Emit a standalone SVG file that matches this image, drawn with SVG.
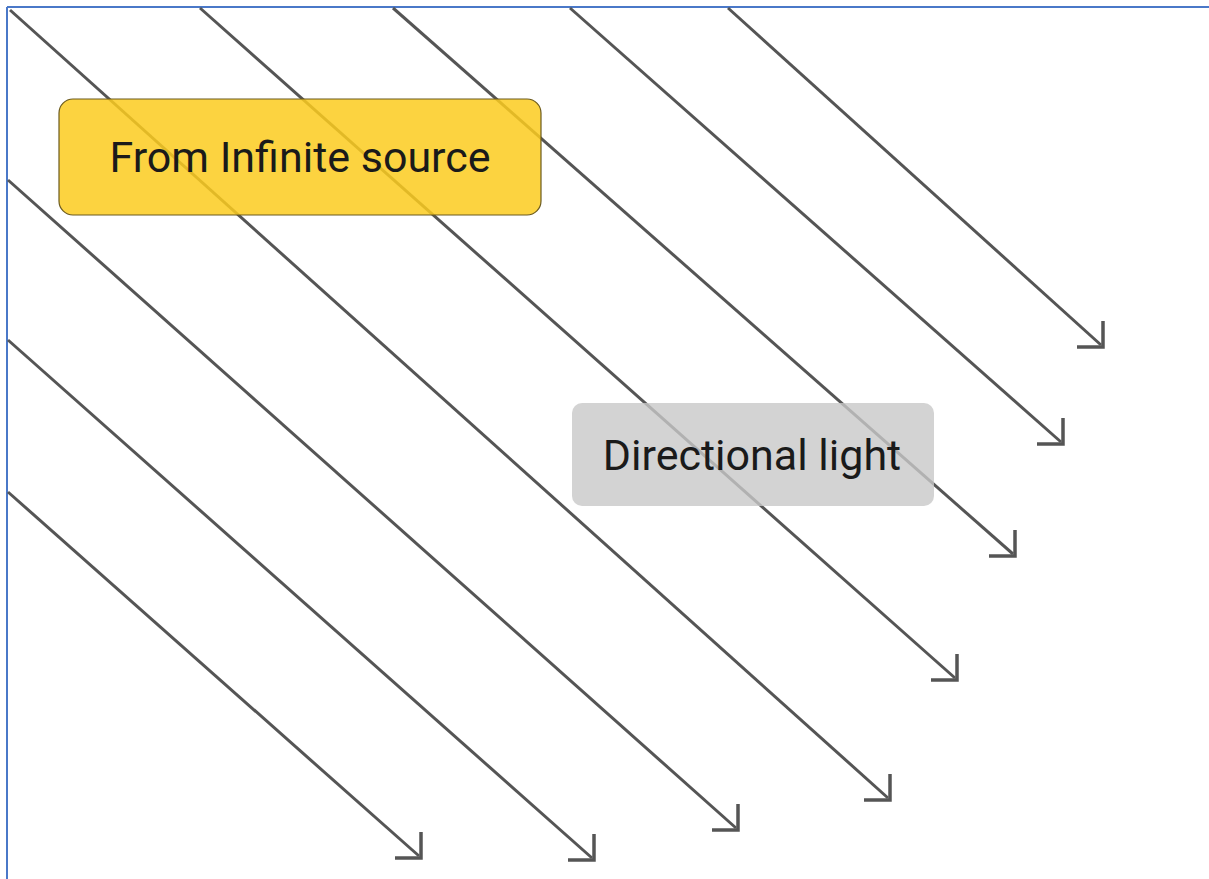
<svg xmlns="http://www.w3.org/2000/svg" width="1209" height="879" viewBox="0 0 1209 879">
<style>
.ray{stroke:#555;stroke-width:3;fill:none;stroke-linecap:butt}
.head{stroke:#555;stroke-width:3.5;fill:none;stroke-linejoin:miter}
.lbl{font-family:Roboto,"Liberation Sans",sans-serif;font-size:43px;fill:#1a1a1a;text-anchor:middle}
</style>
<rect x="0" y="0" width="1209" height="879" fill="#fff"/>
<path d="M7,7 H1209 M7,7 V879" stroke="#4a78c8" stroke-width="2" fill="none"/>
<g id="connectors">
<path class="ray" d="M728,8 L1101,345"/><path class="head" d="M1077,347 H1103 V321"/>
<path class="ray" d="M570,8 L1061,442"/><path class="head" d="M1037,444 H1063 V418"/>
<path class="ray" d="M393,8 L1013,554"/><path class="head" d="M989,556 H1015 V530"/>
<path class="ray" d="M200,8 L955,678"/><path class="head" d="M931,680 H957 V654"/>
<path class="ray" d="M10,10 L888,798"/><path class="head" d="M864,800 H890 V774"/>
<path class="ray" d="M8,180 L736,828"/><path class="head" d="M712,830 H738 V804"/>
<path class="ray" d="M8,340 L592,858"/><path class="head" d="M568,860 H594 V834"/>
<path class="ray" d="M8,492 L419,856"/><path class="head" d="M395,858 H421 V832"/>
</g>
<g id="source">
<rect x="59" y="99" width="482" height="116" rx="14" fill="#fccb1f" fill-opacity="0.85" stroke="#6b5a1e" stroke-width="1.2"/>
<text class="lbl" x="300" y="172">From Infinite source</text>
</g>
<g id="directional">
<rect x="572" y="403" width="362" height="103" rx="10" fill="#c8c8c8" fill-opacity="0.8"/>
<text class="lbl" x="752" y="470">Directional light</text>
</g>
</svg>
